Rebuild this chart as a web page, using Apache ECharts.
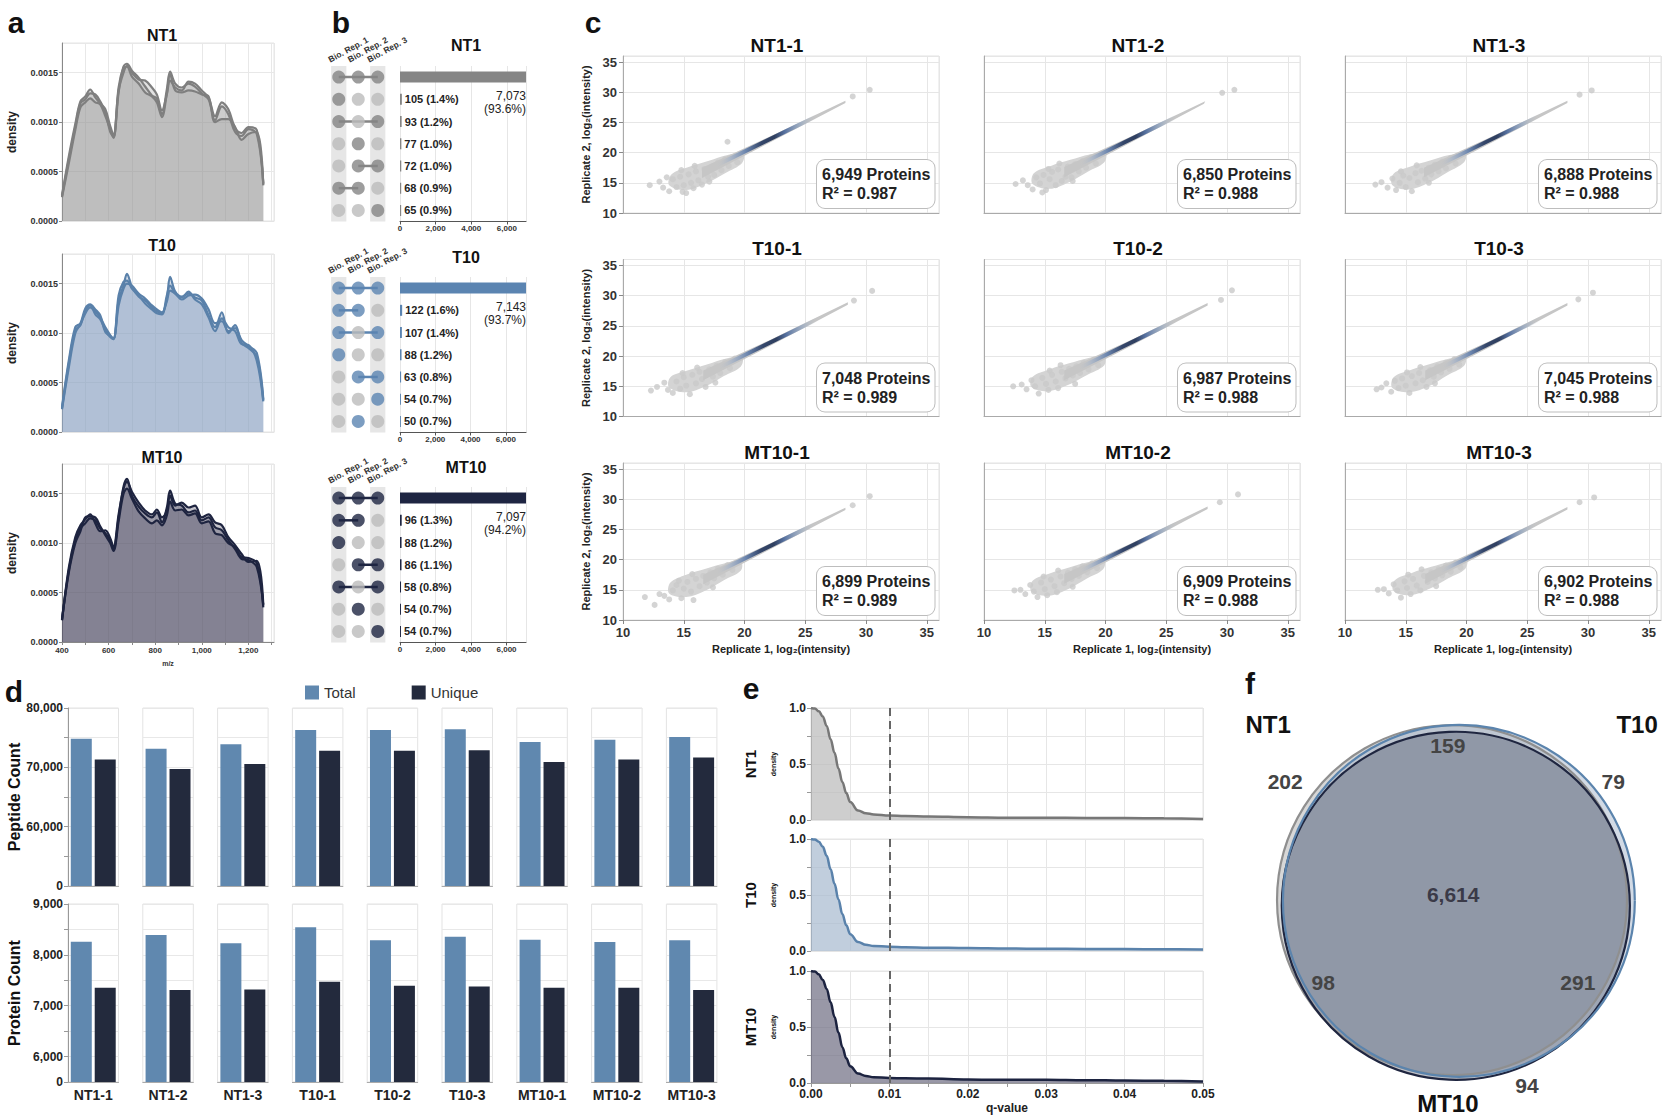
<!DOCTYPE html>
<html><head><meta charset="utf-8">
<script src="https://cdn.jsdelivr.net/npm/echarts@6/dist/echarts.min.js"></script>
<style>html,body{margin:0;padding:0;background:#fff}#c{width:1665px;height:1117px}</style>
</head><body><div id="c"></div>
<script>
// ================= DATA =================
// panel a: m/z density (values in units of 1e-4)
const groups = ['NT1','T10','MT10'];
const mzX = [400,429,457,479,500,521,543,564,586,607,621,643,664,679,700,729,757,786,807,829,850,864,886,914,943,971,1000,1029,1057,1086,1114,1143,1171,1200,1236,1264];
const densNT1_x1e4 = [
  [2.5,6.2,9.5,11.9,12.3,12.9,12.8,12.1,11.0,9.0,8.5,13.5,15.6,15.9,15.2,14.5,13.6,12.7,12.4,10.8,13.3,15.1,13.9,13.5,13.9,13.6,12.9,12.3,10.2,11.6,10.8,9.0,8.6,9.3,8.8,3.8],
  [2.4,5.8,9.2,11.5,12.0,12.4,12.0,11.8,10.6,9.3,8.4,13.0,15.5,15.6,14.6,13.9,13.0,12.6,12.0,10.5,12.9,14.8,13.2,13.0,13.2,13.1,12.8,12.6,10.0,10.3,10.3,9.5,8.2,8.8,9.0,3.6],
  [2.6,6.5,9.8,12.1,12.6,13.3,12.5,11.9,11.3,9.6,8.7,13.2,15.0,15.7,15.0,14.3,14.2,13.5,12.8,11.2,12.8,14.2,13.5,13.2,14.1,13.9,13.2,12.5,10.6,12.0,11.3,9.4,8.9,9.5,9.2,3.7]];
const densT10_x1e4 = [
  [2.4,6.9,10.3,10.8,12.3,12.8,11.9,11.4,10.3,9.6,9.4,13.3,14.8,16.0,14.7,13.7,13.3,12.6,12.2,12.0,13.5,15.7,14.2,13.7,14.0,13.6,13.3,11.8,10.6,12.1,10.0,10.8,9.0,8.5,7.6,3.2],
  [2.3,6.5,10.0,10.9,12.0,12.6,12.2,11.6,10.6,9.8,9.5,12.8,14.5,15.0,14.8,14.0,13.5,12.8,12.4,12.1,13.2,14.3,14.0,13.4,13.8,13.9,13.5,12.4,11.0,11.2,10.2,10.5,9.3,8.7,8.0,3.3],
  [2.5,7.2,10.6,11.0,12.5,12.9,12.4,11.8,10.1,9.7,9.4,13.8,15.2,15.3,14.5,13.8,13.0,12.4,12.0,11.9,13.8,14.8,14.0,13.6,14.2,13.4,12.9,11.6,10.2,11.5,10.6,10.2,8.9,8.8,7.2,3.1]];
const densMT10_x1e4 = [
  [2.2,7.2,10.3,11.5,12.0,12.5,12.3,11.5,11.0,10.3,9.4,12.6,15.7,16.5,14.8,13.7,13.0,12.6,13.1,12.1,13.6,15.3,14.0,13.8,13.1,13.3,12.3,12.6,11.6,11.3,10.3,9.4,8.4,8.3,7.6,3.7],
  [2.3,7.0,10.0,11.2,12.6,12.7,12.6,11.7,10.8,10.0,9.2,12.2,15.0,15.5,14.5,13.2,12.5,12.0,12.3,11.8,12.8,14.2,13.3,13.4,12.8,13.0,12.0,12.2,11.0,10.8,10.0,9.6,8.6,8.5,8.0,3.5],
  [2.2,7.5,10.6,11.8,12.4,12.9,12.0,11.2,11.3,10.5,9.6,12.9,15.5,16.2,15.2,14.1,13.3,12.9,13.4,12.6,13.3,14.8,13.8,14.1,13.6,13.8,12.6,12.9,12.1,11.8,10.6,9.8,8.9,8.1,8.2,3.8]];

// panel b: upset
const repLabels = ['Bio. Rep. 1','Bio. Rep. 2','Bio. Rep. 3'];
const upsetCounts = [[7073,105,93,77,72,68,65],[7143,122,107,88,63,54,50],[7097,96,88,86,58,54,54]];
const upsetPct = [['93.6%','1.4%','1.2%','1.0%','1.0%','0.9%','0.9%'],['93.7%','1.6%','1.4%','1.2%','0.8%','0.7%','0.7%'],['94.2%','1.3%','1.2%','1.1%','0.8%','0.7%','0.7%']];
const upsetSets = [
  [[1,1,1],[1,0,0],[1,0,1],[0,1,0],[0,1,1],[1,1,0],[0,0,1]],
  [[1,1,1],[1,1,0],[1,0,1],[1,0,0],[0,1,1],[0,0,1],[0,1,0]],
  [[1,1,1],[1,1,0],[1,0,0],[0,1,1],[1,0,1],[0,1,0],[0,0,1]]];

// panel c: replicate scatter
const samples = ['NT1-1','NT1-2','NT1-3','T10-1','T10-2','T10-3','MT10-1','MT10-2','MT10-3'];
const cProteins = [6949,6850,6888,7048,6987,7045,6899,6909,6902];
const cR2 = ['0.987','0.988','0.988','0.989','0.988','0.988','0.989','0.988','0.988'];
const cCloud = [
 [[12.2,14.6],[13.0,15.2],[13.3,14.2],[13.8,13.6],[14.1,15.6],[14.4,14.3],[14.7,16.0],[15.0,14.6],[15.2,13.3],[15.4,16.4],[15.6,15.0],[15.8,14.1],[16.0,16.9],[16.2,15.4],[16.5,14.7],[16.7,17.3],[17.0,16.0],[17.3,17.7],[17.5,16.3],[17.8,18.3],[18.1,17.1],[18.4,18.9],[18.7,17.8],[18.6,21.8],[19.4,18.4],[14.8,17.1],[15.9,17.8],[13.6,15.9],[14.9,13.5],[17.1,15.2],[28.9,29.3],[30.3,30.4]],
 [[13.2,15.4],[13.6,14.6],[14.0,13.9],[14.3,15.9],[14.6,14.9],[14.9,16.3],[15.1,13.8],[15.4,15.6],[15.6,16.8],[15.9,14.6],[16.1,17.2],[16.4,15.3],[16.7,16.0],[16.9,17.7],[17.2,15.9],[17.5,18.1],[17.8,16.9],[18.1,18.6],[18.4,17.5],[18.8,19.2],[19.2,18.2],[15.3,17.3],[16.2,18.2],[12.6,14.8],[14.8,13.4],[17.3,15.3],[29.6,29.9],[30.6,30.4]],
 [[13.0,15.1],[13.5,14.2],[13.9,15.7],[14.2,13.8],[14.5,15.0],[14.8,16.2],[15.0,14.3],[15.3,15.8],[15.5,13.6],[15.8,16.6],[16.0,15.1],[16.3,17.0],[16.6,15.7],[16.9,17.5],[17.1,16.4],[17.4,18.0],[17.7,16.9],[18.0,18.5],[18.3,17.4],[18.7,19.1],[19.1,18.2],[14.6,16.9],[15.9,17.9],[12.5,14.7],[16.9,15.0],[29.3,29.6],[30.3,30.3]],
 [[12.8,14.9],[13.4,15.6],[13.7,14.4],[14.1,13.9],[14.4,15.8],[14.7,14.6],[15.0,16.5],[15.2,15.1],[15.5,13.7],[15.7,16.9],[16.0,15.5],[16.3,17.4],[16.5,16.2],[16.8,14.9],[17.1,17.8],[17.4,16.6],[17.7,18.4],[18.0,17.2],[18.4,19.0],[18.8,18.0],[19.2,19.6],[14.9,17.2],[16.1,18.1],[12.3,14.3],[17.6,15.6],[29.0,29.2],[30.5,30.8]],
 [[13.1,15.3],[13.5,14.5],[13.9,16.0],[14.2,15.0],[14.5,13.8],[14.8,16.4],[15.1,15.4],[15.3,14.4],[15.6,16.9],[15.9,15.8],[16.1,14.7],[16.4,17.4],[16.7,16.3],[17.0,17.9],[17.3,16.8],[17.6,18.3],[17.9,17.2],[18.2,18.9],[18.6,17.8],[19.0,19.4],[19.4,18.5],[15.4,17.6],[16.3,18.5],[12.4,15.0],[17.5,15.4],[29.5,29.3],[30.4,30.9]],
 [[13.0,14.8],[13.4,15.5],[13.8,14.1],[14.1,15.9],[14.4,14.7],[14.7,16.3],[15.0,15.1],[15.3,13.9],[15.5,16.7],[15.8,15.5],[16.1,17.2],[16.4,16.0],[16.7,14.9],[17.0,17.7],[17.3,16.6],[17.6,18.3],[17.9,17.3],[18.3,18.9],[18.6,17.9],[19.0,19.5],[19.4,18.6],[15.1,17.3],[16.2,18.2],[12.6,14.5],[17.4,15.5],[29.2,29.4],[30.4,30.5]],
 [[11.8,13.8],[12.6,12.5],[13.0,14.3],[13.4,14.0],[13.8,13.4],[14.1,14.9],[14.4,15.8],[14.8,13.6],[15.0,15.2],[15.3,16.3],[15.6,14.7],[15.8,13.3],[16.0,16.8],[16.3,15.6],[16.6,17.3],[16.9,16.2],[17.2,17.9],[17.5,16.9],[17.8,18.5],[18.2,17.5],[18.6,19.1],[19.0,18.3],[14.6,16.5],[15.7,17.6],[17.4,15.4],[28.9,29.0],[30.3,30.5]],
 [[13.0,15.0],[13.4,14.3],[13.8,15.8],[14.1,14.7],[14.4,13.8],[14.7,16.2],[15.0,15.1],[15.2,14.1],[15.5,16.7],[15.8,15.6],[16.0,14.6],[16.3,17.2],[16.6,16.1],[16.9,17.8],[17.2,16.8],[17.5,18.4],[17.8,17.3],[18.1,18.9],[18.5,17.9],[18.9,19.4],[19.3,18.6],[14.9,17.2],[16.1,18.2],[12.5,14.9],[17.3,15.5],[29.4,29.5],[30.9,30.8]],
 [[13.2,15.1],[13.6,14.4],[14.0,15.9],[14.3,14.9],[14.6,13.7],[14.9,16.4],[15.1,15.3],[15.4,14.3],[15.6,16.8],[15.9,15.7],[16.2,14.9],[16.5,17.3],[16.8,16.3],[17.1,17.9],[17.4,16.9],[17.7,18.4],[18.0,17.4],[18.3,19.0],[18.7,18.0],[19.1,19.5],[19.5,18.7],[15.2,17.5],[16.3,18.4],[12.7,15.0],[17.5,15.6],[29.3,29.5],[30.5,30.3]]];
const cBlob = [
 [[13.8,14.6],[15.2,13.8],[16.8,14.9],[18.4,16.6],[19.8,18.3],[19.9,19.8],[18.6,19.6],[17.0,18.6],[15.4,17.6],[14.0,16.4]],
 [[14.0,14.8],[15.4,14.0],[17.0,15.1],[18.5,16.8],[19.9,18.4],[20.0,19.9],[18.7,19.7],[17.1,18.8],[15.5,17.8],[14.1,16.6]],
 [[13.9,14.6],[15.3,13.9],[16.9,15.0],[18.4,16.7],[19.8,18.4],[19.9,19.8],[18.6,19.6],[17.0,18.7],[15.4,17.7],[14.0,16.5]],
 [[13.8,14.8],[15.2,14.0],[16.8,15.0],[18.3,16.7],[19.7,18.3],[19.8,19.8],[18.5,19.6],[16.9,18.6],[15.3,17.6],[13.9,16.5]],
 [[13.9,14.9],[15.3,14.2],[16.9,15.2],[18.4,16.8],[19.9,18.5],[19.9,20.0],[18.6,19.7],[17.0,18.8],[15.4,17.8],[14.0,16.6]],
 [[13.9,14.7],[15.3,14.0],[16.9,15.0],[18.4,16.8],[19.8,18.4],[19.9,19.9],[18.6,19.6],[17.0,18.7],[15.4,17.7],[14.0,16.5]],
 [[13.8,14.4],[15.2,13.8],[16.8,14.9],[18.3,16.6],[19.7,18.2],[19.7,19.7],[18.4,19.4],[16.8,18.5],[15.2,17.5],[13.9,16.2]],
 [[13.9,14.7],[15.3,14.0],[16.9,15.1],[18.4,16.8],[19.8,18.4],[19.9,19.9],[18.6,19.6],[17.0,18.7],[15.4,17.7],[14.0,16.5]],
 [[14.0,14.8],[15.4,14.1],[17.0,15.2],[18.5,16.9],[19.9,18.5],[20.0,20.0],[18.7,19.7],[17.1,18.8],[15.5,17.8],[14.1,16.6]]];
const cBand = [
 [[16.5,15.8],[22.0,21.6],[28.3,28.2],[28.3,28.6],[22.0,22.6],[16.5,17.5]],
 [[16.6,15.9],[22.0,21.6],[28.1,28.1],[28.2,28.5],[22.0,22.6],[16.6,17.6]],
 [[16.5,15.9],[22.0,21.6],[28.3,28.2],[28.3,28.6],[22.0,22.6],[16.5,17.5]],
 [[16.6,16.0],[22.0,21.6],[28.5,28.5],[28.5,28.9],[22.0,22.6],[16.6,17.6]],
 [[16.6,16.0],[22.0,21.6],[28.4,28.4],[28.4,28.8],[22.0,22.6],[16.6,17.6]],
 [[16.6,16.0],[22.0,21.6],[28.3,28.4],[28.3,28.8],[22.0,22.6],[16.6,17.6]],
 [[16.6,15.9],[22.0,21.6],[28.3,28.2],[28.3,28.6],[22.0,22.6],[16.6,17.5]],
 [[16.6,16.0],[22.0,21.6],[28.4,28.4],[28.4,28.8],[22.0,22.6],[16.6,17.6]],
 [[16.6,16.0],[22.0,21.6],[28.3,28.3],[28.3,28.7],[22.0,22.6],[16.6,17.6]]];
const cCore = [
 [[17.6,17.8],[26.0,26.1]],[[17.8,18.0],[25.9,26.0]],[[17.7,17.9],[26.0,26.1]],
 [[17.8,18.0],[26.1,26.2]],[[17.7,17.9],[25.9,26.0]],[[17.9,18.1],[26.1,26.2]],
 [[17.6,17.8],[25.9,26.0]],[[17.7,17.9],[26.0,26.1]],[[17.7,17.9],[25.9,26.0]]];

// panel d: counts
const pepTotal  = [74800,73150,73900,76300,76300,76400,74250,74650,75100];
const pepUnique = [71300,69700,70550,72800,72800,72900,70900,71300,71650];
const protTotal  = [8260,8390,8226,8541,8285,8357,8295,8252,8285];
const protUnique = [7354,7308,7321,7472,7393,7380,7354,7354,7308];

// panel e: q-value density
const qX = [0,0.0005,0.001,0.0015,0.002,0.0025,0.003,0.0035,0.004,0.0045,0.005,0.006,0.007,0.008,0.01,0.012,0.015,0.02,0.025,0.03,0.035,0.04,0.045,0.05];
const qNT1  = [1.0,0.995,0.97,0.925,0.84,0.72,0.6,0.46,0.34,0.24,0.16,0.085,0.06,0.05,0.04,0.036,0.032,0.025,0.021,0.02,0.018,0.017,0.015,0.01];
const qT10  = [1.0,0.995,0.975,0.93,0.85,0.73,0.6,0.46,0.33,0.23,0.15,0.08,0.055,0.045,0.038,0.034,0.03,0.026,0.022,0.02,0.018,0.017,0.016,0.014];
const qMT10 = [1.0,0.995,0.97,0.92,0.84,0.72,0.59,0.45,0.32,0.22,0.15,0.085,0.062,0.052,0.045,0.042,0.04,0.032,0.028,0.03,0.025,0.022,0.02,0.013];

// panel f: venn counts
const vennRegions = ['NT1 only','T10 only','MT10 only','NT1∩T10','NT1∩MT10','T10∩MT10','all'];
const vennCounts  = [202,79,94,159,98,291,6614];

// ================= LAYOUT / STYLE =================
const F = '"Liberation Sans", Arial, Helvetica, sans-serif';
const fmt = v => v.toLocaleString('en-US');
const grid=[], xAxis=[], yAxis=[], series=[], graphics=[];
function addGrid(g, xa, ya){ const i=grid.length; grid.push(Object.assign({outerBoundsMode:'none'}, g)); xa.gridIndex=i; ya.gridIndex=i; xAxis.push(xa); yAxis.push(ya); return i; }
function txt(x,y,text,size,o={}){
  const al=o.align||'center', va=o.valign||'middle';
  graphics.push({type:'text', x, y, rotation:o.rot||0, silent:true, z:100,
    style:{text, fill:o.color||'#111', font:`${o.weight||'bold'} ${size}px ${F}`, textAlign:al, align:al, textVerticalAlign:va, verticalAlign:va}});
}
const grey = '#e4e4e4';

// ---------- panel letters ----------
txt(16,22,'a',30); txt(341,22,'b',30); txt(593,22,'c',30);
txt(14,691,'d',30); txt(751,688,'e',30); txt(1250,683,'f',30);

// ---------- panel a ----------
const densAll = [densNT1_x1e4, densT10_x1e4, densMT10_x1e4];
const aTops=[43,254,464], aTitleY=[35,245,457];
const aLine=['#7f7f7f','#5a81aa','#1e2440'];
const aFill=['rgba(150,150,150,0.4)','rgba(140,163,195,0.45)','rgba(85,82,105,0.5)'];
groups.forEach((g,k)=>{
  const last=k===2;
  const gi=addGrid({left:62,top:aTops[k],width:212,height:178,show:true,borderColor:grey,borderWidth:1},
    {type:'value',min:400,max:1310,interval:100,
     axisLine:{show:true,onZero:false,lineStyle:{color:last?'#888':grey}},
     axisTick:{show:last,length:3,lineStyle:{color:'#888'}},
     axisLabel:{show:last,fontSize:8,fontWeight:'bold',color:'#333',margin:4,showMaxLabel:false,
       formatter:v=>(v%200===0&&v<=1200)?fmt(v):''},
     splitLine:{show:true,lineStyle:{color:'#e8e8e8'}},
     name:last?'m/z':'',nameLocation:'middle',nameGap:18,nameTextStyle:{fontSize:7,fontWeight:'bold',color:'#333'}},
    {type:'value',min:0,max:0.0018,interval:0.0005,
     axisLine:{show:true,lineStyle:{color:'#888'}},axisTick:{show:true,length:3,lineStyle:{color:'#888'}},
     axisLabel:{fontSize:9,fontWeight:'bold',color:'#333',margin:4,showMaxLabel:false,formatter:v=>v.toFixed(4)},
     splitLine:{lineStyle:{color:'#e8e8e8'}},
     name:'density',nameLocation:'middle',nameGap:44,nameRotate:90,nameTextStyle:{fontSize:12,fontWeight:'bold',color:'#222'}});
  txt(162,aTitleY[k],g,16);
  densAll[k].forEach(rep=>{
    series.push({type:'line',xAxisIndex:gi,yAxisIndex:gi,data:mzX.map((x,i)=>[x,rep[i]*1e-4]),
      smooth:0.35,symbol:'none',lineStyle:{color:aLine[k],width:2.2},areaStyle:{color:aFill[k]},silent:true});
  });
});

// ---------- panel b ----------
const bTops=[66,277,487], bTitleY=[45,257,467];
const bActive=['#858585','#5b84b1','#1e2542'];
const bInactive='#bcbcbc';
const bColX=[339,358.5,378];
groups.forEach((g,k)=>{
  txt(466,bTitleY[k],g,16);
  repLabels.forEach((lab,j)=>txt(bColX[j]-8,bTops[k]-2,lab,8.5,{align:'left',valign:'bottom',rot:0.5,color:'#333'}));
  const gi=addGrid({left:329,top:bTops[k],width:58.5,height:155.5},
    {type:'category',data:repLabels,position:'top',show:false},
    {type:'category',data:['0','1','2','3','4','5','6'],inverse:true,show:false});
  series.push({type:'custom',xAxisIndex:gi,yAxisIndex:gi,data:[[0,0],[2,0]],silent:true,z:1,
    renderItem:(params,api)=>{const p=api.coord([api.value(0),0]);const cs=params.coordSys;const w=api.size([1,0])[0]*0.78;
      return {type:'rect',shape:{x:p[0]-w/2,y:cs.y,width:w,height:cs.height},style:{fill:'#e6e6e6'}};}});
  const lines=[];
  upsetSets[k].forEach((row,r)=>{const act=[0,1,2].filter(c=>row[c]);if(act.length>1)lines.push([act[0],r,act[act.length-1]]);});
  series.push({type:'custom',xAxisIndex:gi,yAxisIndex:gi,data:lines,encode:{x:0,y:1},silent:true,z:2,
    renderItem:(params,api)=>{const a=api.coord([api.value(0),api.value(1)]);const b=api.coord([api.value(2),api.value(1)]);
      return {type:'line',shape:{x1:a[0],y1:a[1],x2:b[0],y2:b[1]},style:{stroke:bActive[k],lineWidth:2.5}};}});
  const dots=[];
  upsetSets[k].forEach((row,r)=>row.forEach((v,c)=>dots.push({value:[c,r],itemStyle:{color:v?bActive[k]:bInactive}})));
  series.push({type:'scatter',xAxisIndex:gi,yAxisIndex:gi,data:dots,symbolSize:13,silent:true,z:3});
  const gb=addGrid({left:400,top:bTops[k],width:126,height:155.5},
    {type:'value',min:0,max:'dataMax',interval:2000,axisLine:{show:true,lineStyle:{color:'#555'}},
     axisTick:{show:true,length:3,lineStyle:{color:'#555'}},
     axisLabel:{fontSize:8,fontWeight:'bold',color:'#333',margin:3,showMaxLabel:false,formatter:v=>fmt(v)},
     splitLine:{lineStyle:{color:'#e6e6e6'}}},
    {type:'category',data:['0','1','2','3','4','5','6'],inverse:true,show:false});
  series.push({type:'bar',xAxisIndex:gb,yAxisIndex:gb,barWidth:11,silent:true,itemStyle:{color:bActive[k]},
    data:upsetCounts[k].map((v,i)=>i===0?
      {value:v,label:{show:true,position:[126,18],align:'right',verticalAlign:'top',fontSize:12,lineHeight:13,color:'#222',
        formatter:()=>fmt(v)+'\n('+upsetPct[k][i]+')'}}:
      {value:v,label:{show:true,position:'right',distance:3,fontSize:11,fontWeight:'bold',color:'#222',
        formatter:()=>fmt(v)+' ('+upsetPct[k][i]+')'}})});
});

// ---------- panel c ----------
const cLefts=[623,984,1345], cTops=[56,259.5,463], cW=316, cH=157;
function polyRender(pts,fill,sm){return (params,api)=>({type:'polygon',shape:{points:pts.map(p=>api.coord(p)),smooth:sm},style:{fill}});}
const coreGradient={type:'linear',x:0,y:0,x2:1,y2:0,colorStops:[
  {offset:0,color:'rgba(200,200,200,0)'},{offset:0.14,color:'rgba(160,176,200,0.65)'},
  {offset:0.3,color:'#6a84ad'},{offset:0.45,color:'#34466a'},{offset:0.58,color:'#2f3f60'},{offset:0.68,color:'#5671a0'},
  {offset:0.84,color:'rgba(140,162,192,0.6)'},{offset:1,color:'rgba(200,200,200,0)'}]};
samples.forEach((s,i)=>{
  const r=Math.floor(i/3), c=i%3;
  const gi=addGrid({left:cLefts[c],top:cTops[r],width:cW,height:cH,show:true,borderColor:'#e2e2e2',borderWidth:1},
    {type:'value',min:10,max:36,interval:5,axisLine:{show:true,lineStyle:{color:'#aaa'}},
     axisTick:{show:r===2,length:4,lineStyle:{color:'#888'}},
     axisLabel:{show:r===2,fontSize:13,fontWeight:'bold',color:'#333',margin:6,showMaxLabel:false},
     splitLine:{lineStyle:{color:'#e6e6e6'}},
     name:r===2?'Replicate 1, log₂(intensity)':'',nameLocation:'middle',nameGap:23,nameTextStyle:{fontSize:11,fontWeight:'bold',color:'#222'}},
    {type:'value',min:10,max:36,interval:5,axisLine:{show:true,lineStyle:{color:'#aaa'}},
     axisTick:{show:c===0,length:4,lineStyle:{color:'#888'}},
     axisLabel:{show:c===0,fontSize:13,fontWeight:'bold',color:'#333',margin:6,showMaxLabel:false},
     splitLine:{lineStyle:{color:'#e6e6e6'}},
     name:c===0?'Replicate 2, log₂(intensity)':'',nameLocation:'middle',nameGap:32,nameRotate:90,nameTextStyle:{fontSize:11,fontWeight:'bold',color:'#222'}});
  txt(cLefts[c]+cW/2-4,cTops[r]-11,s,19);
  series.push({type:'custom',xAxisIndex:gi,yAxisIndex:gi,data:[cBlob[i][0]],renderItem:polyRender(cBlob[i],'#d4d4d4',0.35),silent:true,z:1});
  series.push({type:'scatter',xAxisIndex:gi,yAxisIndex:gi,data:cCloud[i],symbolSize:6,itemStyle:{color:'#c9c9c9'},silent:true,z:2});
  series.push({type:'custom',xAxisIndex:gi,yAxisIndex:gi,data:[cBand[i][0]],renderItem:polyRender(cBand[i],'#c6c6c6',0),silent:true,z:3});
  series.push({type:'line',xAxisIndex:gi,yAxisIndex:gi,data:cCore[i],symbol:'none',lineStyle:{color:coreGradient,width:4,cap:'round'},silent:true,z:4});
  graphics.push({type:'text',x:cLefts[c]+cW-122,y:cTops[r]+cH-53,silent:true,z:100,
    style:{text:fmt(cProteins[i])+' Proteins\nR² = '+cR2[i],font:`bold 16px ${F}`,fill:'#222',lineHeight:19,
      backgroundColor:'#fff',borderColor:'#bdbdbd',borderWidth:1,borderRadius:8,padding:[5,4,5,5],
      textAlign:'left',align:'left',textVerticalAlign:'top',verticalAlign:'top'}});
});

// ---------- panel d ----------
const totalColor='#6088af', uniqueColor='#232a3d';
samples.forEach((s,i)=>{
  const left=68+i*74.8, first=i===0;
  [[708,pepTotal,pepUnique,50000,80000,5000,10000,false],[904,protTotal,protUnique,5500,9000,500,1000,true]].forEach(cfg=>{
    const [top,tot,uni,mn,mx,iv,lab,showX]=cfg;
    const gi=addGrid({left,top,width:50.5,height:178,show:true,borderColor:'#e3e3e3',borderWidth:1},
      {type:'category',data:[s],axisLine:{show:true,lineStyle:{color:'#aaa'}},axisTick:{show:false},
       axisLabel:{show:showX,fontSize:14,fontWeight:'bold',color:'#222',margin:6,interval:0}},
      {type:'value',min:mn,max:mx,interval:iv,
       axisLine:{show:first,lineStyle:{color:'#999'}},axisTick:{show:first,length:4,lineStyle:{color:'#999'}},
       axisLabel:{show:first,fontSize:12,fontWeight:'bold',color:'#222',margin:5,
         formatter:v=>v===mn?'0':(v%lab===0?fmt(v):'')},
       splitLine:{lineStyle:{color:'#e8e8e8'}}});
    series.push({type:'bar',name:'Total',xAxisIndex:gi,yAxisIndex:gi,data:[tot[i]],barWidth:21,barGap:'14%',itemStyle:{color:totalColor},silent:true});
    series.push({type:'bar',name:'Unique',xAxisIndex:gi,yAxisIndex:gi,data:[uni[i]],barWidth:21,barGap:'14%',itemStyle:{color:uniqueColor},silent:true});
  });
});
txt(14,797,'Peptide Count',16,{rot:Math.PI/2});
txt(14,993,'Protein Count',16,{rot:Math.PI/2});

// ---------- panel e ----------
const eTops=[708,839,971];
const eSeries=[qNT1,qT10,qMT10];
const eLine=['#777777','#5a82ab','#1c2340'], eFill=['#b9b9b9','#a7b9cf','#6e6c81'];
groups.forEach((g,k)=>{
  const last=k===2;
  const gi=addGrid({left:811,top:eTops[k],width:392,height:112,show:true,borderColor:grey,borderWidth:1},
    {type:'value',min:0,max:0.05,interval:0.005,axisLine:{show:true,onZero:false,lineStyle:{color:last?'#999':grey}},
     axisTick:{show:last,length:4,lineStyle:{color:'#999'}},
     axisLabel:{show:last,fontSize:12,fontWeight:'bold',color:'#222',margin:5,
       formatter:v=>Math.round(v*1000)%10===0?v.toFixed(2):''},
     splitLine:{lineStyle:{color:'#e6e6e6'}},
     name:last?'q-value':'',nameLocation:'middle',nameGap:19,nameTextStyle:{fontSize:12,fontWeight:'bold',color:'#222'}},
    {type:'value',min:0,max:1,interval:0.25,axisLine:{show:true,lineStyle:{color:'#999'}},
     axisTick:{show:true,length:4,lineStyle:{color:'#999'}},
     axisLabel:{fontSize:12,fontWeight:'bold',color:'#222',margin:5,
       formatter:v=>(v===0||v===0.5||v===1)?v.toFixed(1):''},
     splitLine:{lineStyle:{color:'#e6e6e6'}}});
  series.push({type:'line',xAxisIndex:gi,yAxisIndex:gi,data:qX.map((x,i)=>[x,eSeries[k][i]]),smooth:0.4,smoothMonotone:'x',
    symbol:'none',lineStyle:{color:eLine[k],width:2.5},areaStyle:{color:eFill[k]},silent:true,
    markLine:{silent:true,symbol:'none',label:{show:false},lineStyle:{type:[8,5],color:'#666',width:2},data:[{xAxis:0.01}]}});
  txt(750,eTops[k]+56,g,15,{rot:Math.PI/2});
  txt(773,eTops[k]+56,'density',7,{rot:Math.PI/2});
});

// ---------- panel f ----------
const vennLayout=[[47.9,52.6,46.05],[49.7,52.4,46.3],[48.9,51.1,45.8]];
const vennFill=['rgba(175,175,175,0.5)','rgba(165,182,204,0.5)','rgba(40,45,70,0.3)'];
const vennStroke=['#8f8f8f','#5b84ad','#1f2640'];
const vennLabelPos=[[4.0,83.7],[90.3,83.7],[67.6,3.9],[46.8,93.2],[14.0,31.0],[81.0,31.0],[48.2,54.0]];
const vennSetNames=['NT1','T10','MT10'];
const vennSetPos=[[-0.5,98.7],[96.6,98.7],[46.8,-0.8]];
const gf=addGrid({left:1270,top:720,width:380,height:380},
  {type:'value',min:0,max:100,show:false},{type:'value',min:0,max:100,show:false});
series.push({type:'custom',xAxisIndex:gf,yAxisIndex:gf,data:vennLayout,encode:{x:0,y:1},silent:true,z:1,clip:false,
  renderItem:(params,api)=>{const p=api.coord([api.value(0),api.value(1)]);const rr=api.size([api.value(2),0])[0];
    return {type:'circle',shape:{cx:p[0],cy:p[1],r:rr},style:{fill:vennFill[params.dataIndex]}};}});
const strokeOrder=[0,2,1];
series.push({type:'custom',xAxisIndex:gf,yAxisIndex:gf,data:strokeOrder.map(j=>vennLayout[j].concat([j])),encode:{x:0,y:1},silent:true,z:2,clip:false,
  renderItem:(params,api)=>{const p=api.coord([api.value(0),api.value(1)]);const rr=api.size([api.value(2),0])[0];
    return {type:'circle',shape:{cx:p[0],cy:p[1],r:rr},style:{fill:'none',stroke:vennStroke[api.value(3)],lineWidth:2.2}};}});
series.push({type:'custom',xAxisIndex:gf,yAxisIndex:gf,data:vennLabelPos.map((p,j)=>[p[0],p[1],j]),encode:{x:0,y:1},silent:true,z:3,clip:false,
  renderItem:(params,api)=>{const p=api.coord([api.value(0),api.value(1)]);const j=api.value(2);
    return {type:'text',x:p[0],y:p[1],style:{text:fmt(vennCounts[j]),fill:j===6?'#3a3a48':'#444',font:`bold 21px ${F}`,
      textAlign:'center',align:'center',textVerticalAlign:'middle',verticalAlign:'middle'}};}});
series.push({type:'custom',xAxisIndex:gf,yAxisIndex:gf,data:vennSetPos.map((p,j)=>[p[0],p[1],j]),encode:{x:0,y:1},silent:true,z:3,clip:false,
  renderItem:(params,api)=>{const p=api.coord([api.value(0),api.value(1)]);const j=api.value(2);
    return {type:'text',x:p[0],y:p[1],style:{text:vennSetNames[j],fill:'#111',font:`bold 24px ${F}`,
      textAlign:'center',align:'center',textVerticalAlign:'middle',verticalAlign:'middle'}};}});

// ================= RENDER =================
const chart=echarts.init(document.getElementById('c'),null,{renderer:'svg'});
chart.setOption({
  animation:false,
  backgroundColor:'#fff',
  textStyle:{fontFamily:F},
  legend:{data:['Total','Unique'],left:305,top:685,padding:0,itemWidth:14,itemHeight:14,itemGap:56,icon:'rect',
    selectedMode:false,textStyle:{fontSize:15,color:'#333',fontFamily:F}},
  grid, xAxis, yAxis, series,
  graphic:{elements:graphics}
});
</script>
</body></html>
